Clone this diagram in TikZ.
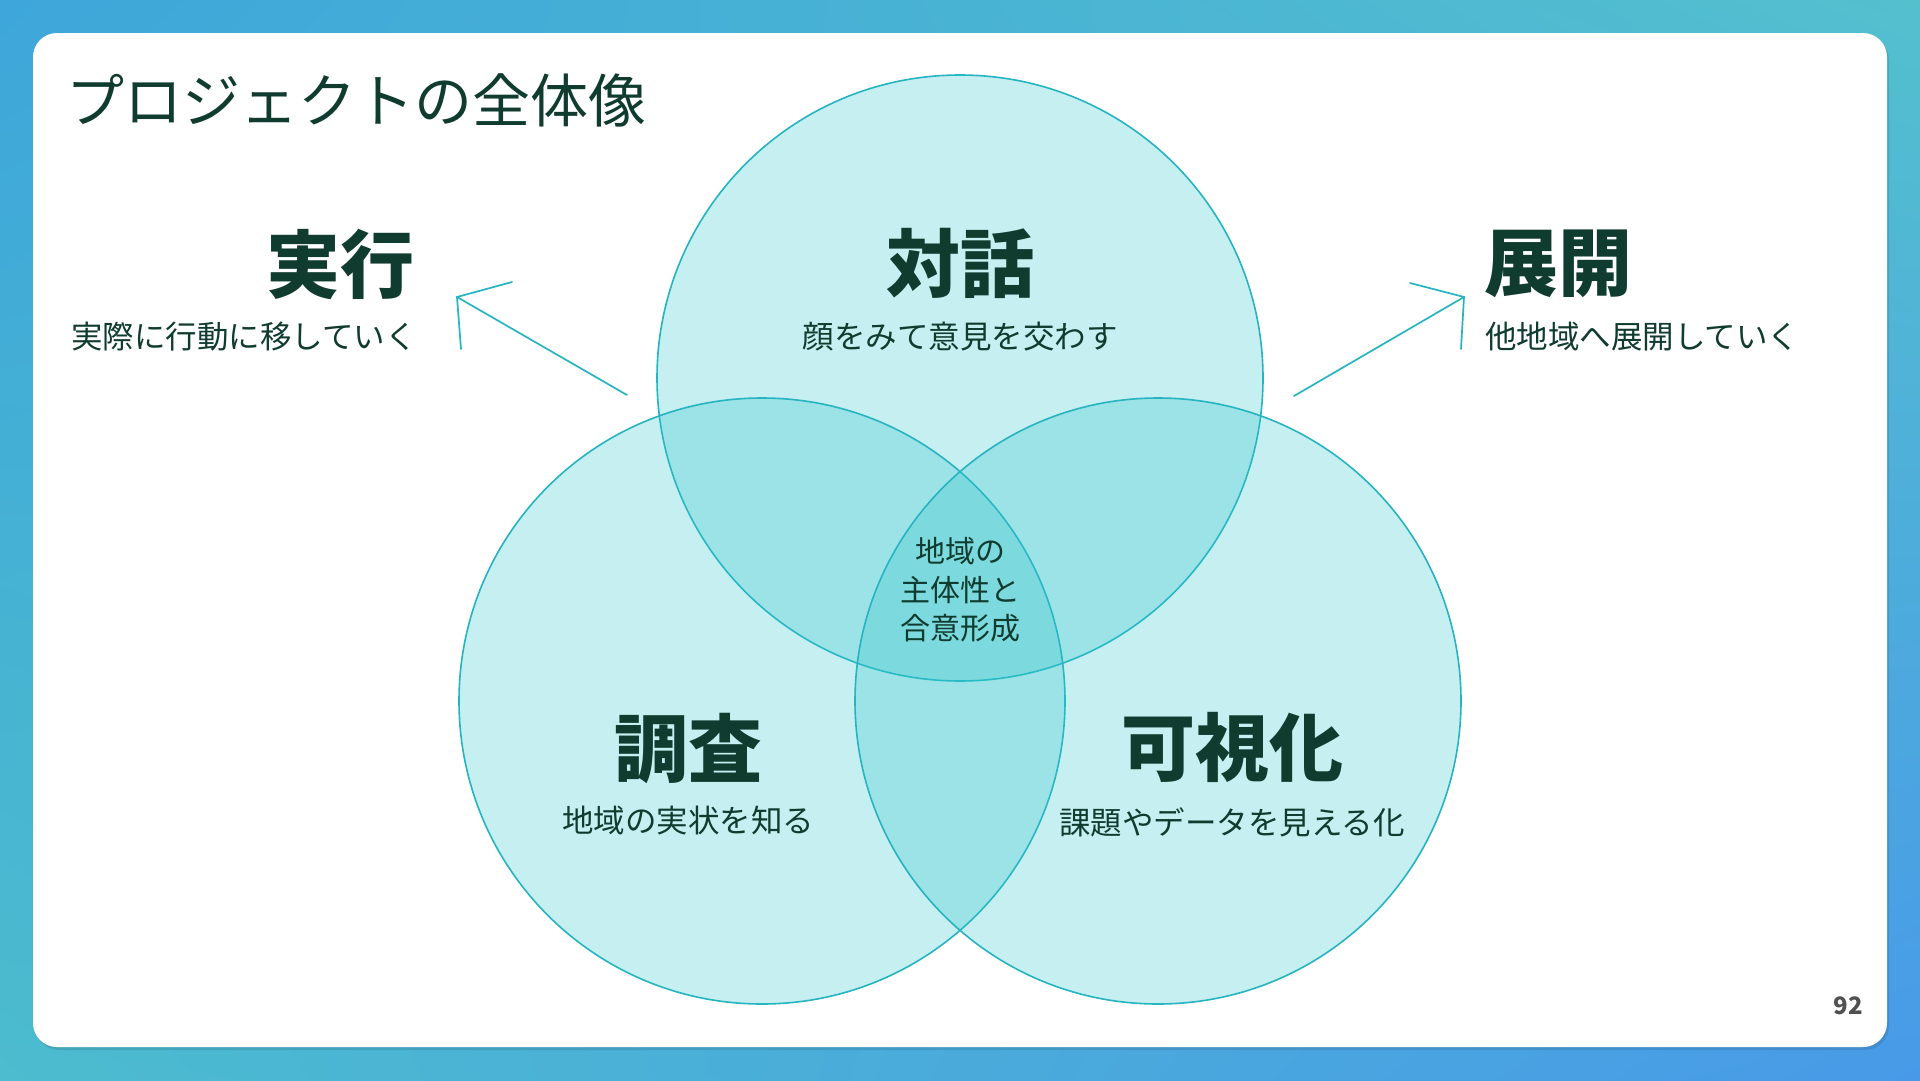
\documentclass[tikz,border=0pt]{standalone}
\usepackage{fontspec}
\newfontfamily\cjk{Noto Sans CJK JP}
\usetikzlibrary{shadings,shadows}
\definecolor{bgTL}{RGB}{62,166,218}
\definecolor{bgTR}{RGB}{84,192,206}
\definecolor{bgBL}{RGB}{76,188,206}
\definecolor{bgBR}{RGB}{72,154,232}
\definecolor{ink}{RGB}{16,60,48}
\definecolor{vennfill}{RGB}{45,197,204}
\definecolor{vennline}{RGB}{38,180,192}
\definecolor{pagegray}{RGB}{80,80,80}
\tikzset{
  venn/.style={circle, minimum size=606pt, inner sep=0pt, fill=vennfill, fill opacity=0.276, draw=vennline, draw opacity=1, line width=1.6pt},
  headtxt/.style={inner sep=0pt, text=ink, font=\cjk\bfseries\fontsize{74}{74}\selectfont},
  subtxt/.style={inner sep=0pt, text=ink, font=\cjk\fontsize{31.5}{31.5}\selectfont},
  centertxt/.style={inner sep=0pt, text=ink, font=\cjk\fontsize{30}{30}\selectfont},
  conn/.style={draw=vennline, line width=1.7pt, line cap=round, line join=miter},
}
\begin{document}
\begin{tikzpicture}[x=1pt,y=-1pt]
\useasboundingbox (0,0) rectangle (1920,1080);
% background
\shade[lower left=bgBL, lower right=bgBR, upper left=bgTL, upper right=bgTR] (0,0) rectangle (1920,1080);
% card
\fill[black, opacity=0.10] (35,36) [rounded corners=24pt] rectangle (1889,1050);
\fill[white, rounded corners=24pt] (33,33) rectangle (1887,1047);
% title
\node[inner sep=0pt, anchor=west, text=ink, font=\cjk\fontsize{58}{58}\selectfont] (title) at (66,100) {プロジェクトの全体像};
% circles
\node[venn] (dialog) at (960,378) {};
\node[venn] (survey) at (762,701) {};
\node[venn] (visual) at (1158,701) {};
% labels in circles
\node[headtxt] (dialogH) at (960,263) {対話};
\node[subtxt] (dialogS) at (960,337) {顔をみて意見を交わす};
\node[headtxt] (surveyH) at (688,749) {調査};
\node[subtxt] (surveyS) at (688,821) {地域の実状を知る};
\node[headtxt] (visualH) at (1232,747) {可視化};
\node[subtxt] (visualS) at (1232,822) {課題やデータを見える化};
\node[centertxt] (c1) at (960,551) {地域の};
\node[centertxt] (c2) at (960,590) {主体性と};
\node[centertxt] (c3) at (960,628) {合意形成};
% side labels
\node[headtxt, anchor=east] (execH) at (415,264) {実行};
\node[subtxt, anchor=east] (execS) at (417,337) {実際に行動に移していく};
\node[headtxt, anchor=west] (expH) at (1484,264) {展開};
\node[subtxt, anchor=west] (expS) at (1485,337) {他地域へ展開していく};
% arrows
\coordinate (lstart) at (627,395);
\coordinate (ltip) at (457,297);
\coordinate (larm1) at (512,282);
\coordinate (larm2) at (461,349);
\coordinate (rstart) at (1294,396);
\coordinate (rtip) at (1464,297);
\coordinate (rarm1) at (1410,283);
\coordinate (rarm2) at (1461,349);
\draw[conn] (lstart) -- (ltip);
\draw[conn] (larm1) -- (ltip) -- (larm2);
\draw[conn] (rstart) -- (rtip);
\draw[conn] (rarm1) -- (rtip) -- (rarm2);
% page number
\node[inner sep=0pt, text=pagegray, font=\cjk\bfseries\fontsize{24}{24}\selectfont] (page) at (1848,1006) {92};
\end{tikzpicture}
\end{document}
